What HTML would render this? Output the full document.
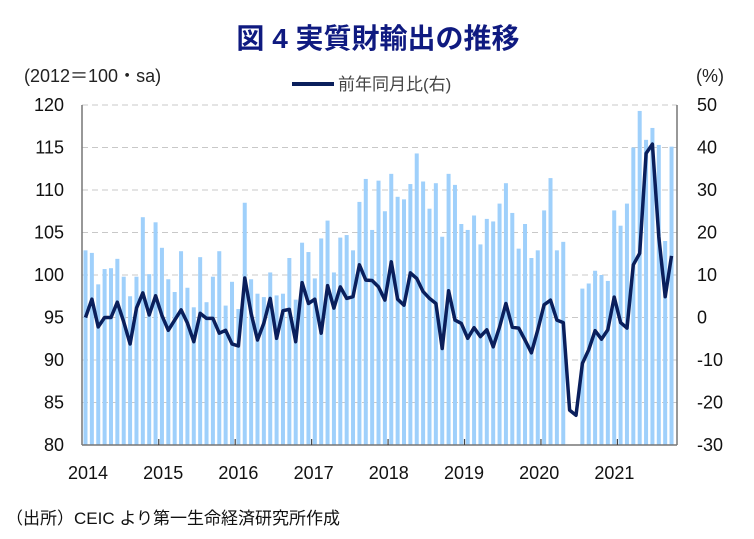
<!DOCTYPE html>
<html><head><meta charset="utf-8"><style>
body{margin:0;background:#fff;}
svg{display:block;font-family:"Liberation Sans","Noto Sans CJK JP",sans-serif;}
</style></head><body>
<svg width="754" height="539" viewBox="0 0 754 539" xmlns="http://www.w3.org/2000/svg">
<text x="378" y="48" text-anchor="middle" font-size="28" font-weight="bold" fill="#0f1a80" font-family="'Liberation Sans','Noto Sans CJK JP',sans-serif">図 4  実質財輸出の推移</text>
<text x="24" y="82" font-size="18" fill="#222">(2012＝100・sa)</text>
<line x1="292" y1="84" x2="334" y2="84" stroke="#0a1f5c" stroke-width="4"/>
<text x="338" y="90" font-size="17" fill="#444">前年同月比(右)</text>
<text x="696" y="82" font-size="18" fill="#222">(%)</text>
<g id="grid"></g>
<g id="bars"></g>
<polyline id="ln" fill="none" stroke="#0a1f5c" stroke-width="3.5" stroke-linejoin="round"/>
<g id="axes"></g>
<text x="6" y="524" font-size="17" fill="#111">（出所）CEIC より第一生命経済研究所作成</text>
</svg>
<script>
(function(){
var NS="http://www.w3.org/2000/svg";
function el(t,a,p,txt){var e=document.createElementNS(NS,t);for(var k in a)e.setAttribute(k,a[k]);if(txt!==undefined)e.textContent=txt;document.getElementById(p).appendChild(e);return e;}
var T=105,B=445,L=82,R=677;
function yL(v){return B-(v-80)*8.5;}
function yR(v){return 317.5-v*4.25;}
for(var i=0;i<=8;i++){var v=80+i*5,y=yL(v);
 if(i>0)el('line',{x1:L,y1:y,x2:R,y2:y,stroke:'#c8c8c8','stroke-dasharray':'6,4','stroke-width':1},'grid');
 el('text',{x:64,y:y+6,'text-anchor':'end','font-size':18,fill:'#111'},'axes',String(v));
 el('text',{x:697,y:y+6,'font-size':18,fill:'#111'},'axes',String(-30+i*10));
}
var bars=[102.9,102.6,98.9,100.7,100.8,101.9,99.8,97.5,99.8,106.8,100.1,106.2,103.2,99.5,98,102.8,98.5,96.2,102.1,96.8,99.8,102.8,96.4,99.2,96,108.5,99.5,97.8,97.4,
100.3,97.6,97.8,102,97.1,103.8,102.7,99.6,104.3,106.4,100.3,104.4,104.7,102.9,108.6,111.3,105.3,111.1,107.5,111.9,109.2,108.9,110.7,114.3,111,107.8,110.8,104.5,111.9,110.6,106,105.3,107,103.6,
106.6,106.3,108.4,110.8,107.3,103.1,106,102,102.9,107.6,111.4,102.9,103.9,79,79,98.4,99,100.5,100,99.3,107.6,105.8,108.4,115,119.3,115.9,117.3,115.3,104,115.1];
var yoy=[0,4.3,-2.2,0,0,3.6,-1,-6.2,2.2,5.8,0.6,5.1,0.5,-3,-0.6,1.8,-1.3,-5.7,1,-0.2,-0.2,-3.7,-3,-6.2,-6.7,9.3,1,-5.3,-1.3,
4.5,-4.9,1.6,1.9,-5.7,8.2,3.3,4.3,-3.7,7.5,2.2,7.2,4.5,4.9,12.4,8.8,8.7,7.2,4.1,13.1,4.3,2.9,10.5,9.2,6.1,4.5,3.3,-7.3,6.3,-0.6,-1.4,-4.9,-2.4,-4.5,
-2.9,-6.9,-2.2,3.3,-2.3,-2.5,-5.3,-8.3,-2.9,3,4.1,-0.6,-1.2,-21.8,-23,-10.8,-7.6,-3.1,-5.1,-2.9,4.8,-1.2,-2.5,12.4,15.1,38.6,40.8,19,4.9,14.5];
var pts=[];
for(var i=0;i<bars.length;i++){var x=85.5+i*6.37;
 if(bars[i]>80){var y=yL(bars[i]);el('rect',{x:x-2,y:y,width:4,height:B-y,fill:'#9fd0fb'},'bars');}
 pts.push(x.toFixed(1)+','+yR(yoy[i]).toFixed(1));}
document.getElementById('ln').setAttribute('points',pts.join(' '));
el('line',{x1:L,y1:T,x2:L,y2:B,stroke:'#777','stroke-width':1.5},'axes');
el('line',{x1:R,y1:T,x2:R,y2:B,stroke:'#777','stroke-width':1.5},'axes');
el('line',{x1:L,y1:B,x2:R,y2:B,stroke:'#777','stroke-width':1.5},'axes');
for(var yr=0;yr<8;yr++){var xt=85.5+(yr*12-0.5)*6.37;
 if(yr>0)el('line',{x1:xt,y1:B,x2:xt,y2:B-6,stroke:'#444','stroke-width':1.2},'axes');
 el('text',{x:88+yr*75.2,y:479,'text-anchor':'middle','font-size':18,fill:'#111'},'axes',String(2014+yr));}
})();
</script>
</body></html>
